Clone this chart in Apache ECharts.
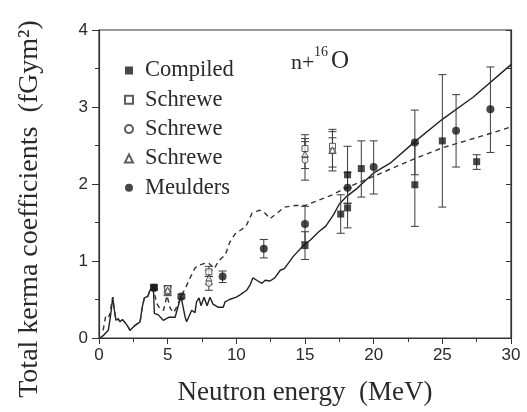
<!DOCTYPE html>
<html>
<head>
<meta charset="utf-8">
<script src="https://cdn.jsdelivr.net/npm/echarts@6/dist/echarts.min.js"></script>
<style>
html,body{margin:0;padding:0;background:#fff;}
#chart{width:527px;height:412px;}
</style>
</head>
<body>
<div id="chart"></div>
<script>
// ---- data ----
const xTickLabels = ['0', '5', '10', '15', '20', '25', '30'];
const yTickLabels = ['0', '1', '2', '3', '4'];

// [energy MeV, value, errLow, errHigh]
const compiled = [
  [4, 0.66, 0.63, 0.69], [15, 1.20, 1.02, 1.38], [17.6, 1.61, 1.36, 1.86],
  [18.1, 2.12, 1.75, 2.49], [18.1, 1.69, 1.43, 1.95], [19.1, 2.20, 1.83, 2.56],
  [23, 1.99, 1.45, 2.53], [25, 2.56, 1.70, 3.42], [27.5, 2.29, 2.19, 2.38]
];
const schreweSquare = [
  [5, 0.64, 0.60, 0.68], [8, 0.86, 0.80, 0.93], [15, 2.46, 2.35, 2.64], [17, 2.49, 2.40, 2.71]
];
const schreweCircle = [
  [5, 0.60, 0.55, 0.65], [8, 0.71, 0.62, 0.80], [15, 2.31, 2.05, 2.55], [17, 2.43, 2.22, 2.60]
];
const schreweTriangle = [
  [5, 0.62, 0.57, 0.67], [8, 0.78, 0.70, 0.88], [15, 2.39, 2.20, 2.59], [17, 2.44, 2.17, 2.68]
];
const meulders = [
  [4, 0.65, 0.62, 0.68], [6, 0.54, 0.51, 0.57], [9, 0.80, 0.72, 0.87], [12, 1.16, 1.04, 1.28],
  [15, 1.48, 1.25, 1.71], [18.1, 1.95, 1.75, 2.15], [20, 2.22, 1.87, 2.56], [23, 2.54, 2.12, 2.96],
  [26, 2.69, 2.22, 3.16], [28.5, 2.97, 2.41, 3.52]
];

// calculated curves [energy, value]
const solidCurve = [
  [0.07, 0], [0.3, 0.03], [0.68, 0.10], [0.85, 0.30], [1.0, 0.53], [1.1, 0.38], [1.24, 0.23],
  [1.4, 0.25], [1.53, 0.21], [1.7, 0.24], [1.9, 0.20], [2.1, 0.15], [2.26, 0.10], [2.6, 0.16],
  [2.99, 0.21], [3.15, 0.40], [3.3, 0.52], [3.55, 0.54], [3.71, 0.62], [3.96, 0.65], [4.03, 0.32],
  [4.32, 0.30], [4.68, 0.23], [5.1, 0.27], [5.54, 0.27], [5.97, 0.54], [6.26, 0.28], [6.38, 0.21],
  [6.75, 0.36], [6.99, 0.33], [7.1, 0.47], [7.28, 0.52], [7.43, 0.42], [7.65, 0.53], [7.87, 0.42],
  [8.08, 0.53], [8.3, 0.44], [8.67, 0.40], [9.05, 0.40], [9.18, 0.47], [9.5, 0.50], [10.0, 0.53],
  [10.27, 0.56], [10.75, 0.62], [11.0, 0.69], [11.2, 0.78], [11.58, 0.74], [11.87, 0.71], [12.1, 0.75],
  [12.45, 0.74], [12.8, 0.78], [13.2, 0.88], [13.5, 0.90], [14.15, 1.06], [14.93, 1.21], [15.37, 1.27],
  [16.0, 1.38], [16.5, 1.45], [17.07, 1.60], [17.5, 1.74], [18.04, 1.84], [18.77, 1.94], [19.13, 2.00],
  [19.98, 2.14], [21.2, 2.27], [23.0, 2.55], [25.0, 2.84], [27.26, 3.13], [30, 3.55]
];
const dashedCurve = [
  [0.3, 0.10], [0.5, 0.30], [0.75, 0.28], [1.0, 0.53], [1.1, 0.38], [1.24, 0.23], [1.4, 0.25],
  [1.53, 0.21], [1.7, 0.24], [1.9, 0.20], [2.1, 0.15], [2.26, 0.10], [2.6, 0.16], [2.99, 0.21],
  [3.15, 0.40], [3.3, 0.52], [3.55, 0.54], [3.71, 0.62], [3.96, 0.65], [4.2, 0.45], [4.45, 0.38],
  [4.7, 0.36], [4.95, 0.55], [5.2, 0.38], [5.45, 0.33], [5.7, 0.42], [5.97, 0.54], [6.3, 0.65],
  [6.63, 0.78], [7.0, 0.91], [7.36, 0.95], [7.7, 0.97], [8.0, 0.97], [8.4, 0.90], [8.7, 1.00],
  [9.2, 1.08], [9.54, 1.25], [9.9, 1.35], [10.3, 1.40], [10.7, 1.45], [11.14, 1.62], [11.7, 1.66],
  [12.1, 1.62], [12.45, 1.55], [12.96, 1.62], [13.5, 1.70], [14.27, 1.72], [15, 1.72], [17, 1.86],
  [18, 1.95], [20, 2.10], [23, 2.33], [25, 2.47], [28, 2.63], [30, 2.74]
];

// ---- chart ----
const SERIF = '"Liberation Serif","Times New Roman",serif';
const SANS = '"Liberation Sans",Arial,sans-serif';
const INK = '#2a2a2a';

function pts(arr) { return arr.map(d => [d[0], d[1]]); }
function errs(arr) { return arr.map(d => [d[0], d[2], d[3]]); }

function errorRender(params, api) {
  const x = api.value(0), lo = api.value(1), hi = api.value(2);
  const top = api.coord([x, hi]);
  const bot = api.coord([x, lo]);
  const w = 4;
  const st = { stroke: '#3a3a3a', lineWidth: 1 };
  return {
    type: 'group',
    children: [
      { type: 'line', shape: { x1: top[0], y1: top[1], x2: bot[0], y2: bot[1] }, style: st },
      { type: 'line', shape: { x1: top[0] - w, y1: top[1], x2: top[0] + w, y2: top[1] }, style: st },
      { type: 'line', shape: { x1: bot[0] - w, y1: bot[1], x2: bot[0] + w, y2: bot[1] }, style: st }
    ]
  };
}
function errSeries(arr) {
  return {
    type: 'custom', renderItem: errorRender, data: errs(arr),
    encode: { x: 0, y: [1, 2] }, z: 2, silent: true
  };
}

const openStyle = { color: '#ffffff', borderColor: '#333', borderWidth: 1 };

const chart = echarts.init(document.getElementById('chart'), null, { renderer: 'canvas' });
chart.setOption({
  animation: false,
  backgroundColor: '#ffffff',
  grid: {
    left: 99, right: 16, top: 30, bottom: 74,
    show: true, borderColor: '#333', borderWidth: 1.2, backgroundColor: 'transparent',
    outerBoundsMode: 'none'
  },
  legend: {
    orient: 'vertical', left: 124, top: 59,
    itemWidth: 8, itemHeight: 8, itemGap: 6.3, padding: 0,
    formatter: n => n.trim(),
    textStyle: { fontFamily: SERIF, fontSize: 22.5, color: INK, padding: [0, 0, 0, 7] },
    data: ['Compiled', 'Schrewe', 'Schrewe ', 'Schrewe  ', 'Meulders']
  },
  xAxis: {
    type: 'value', min: 0, max: 30, interval: 5,
    axisLine: { show: true, lineStyle: { color: '#333', width: 1.2 } },
    axisTick: { show: true, inside: false, length: 6, lineStyle: { color: '#333' } },
    minorTick: { show: true, splitNumber: 2, length: 4, lineStyle: { color: '#333' } },
    splitLine: { show: false },
    axisLabel: {
      margin: 9, fontFamily: SANS, fontSize: 17, color: INK,
      formatter: v => xTickLabels[Math.round(v / 5)]
    },
    name: 'Neutron energy  (MeV)', nameLocation: 'middle', nameGap: 41,
    nameTextStyle: { fontFamily: SERIF, fontSize: 27, color: INK }
  },
  yAxis: [
    {
      type: 'value', min: 0, max: 4, interval: 1,
      axisLine: { show: true, lineStyle: { color: '#333', width: 1.2 } },
      axisTick: { show: true, inside: false, length: 7, lineStyle: { color: '#333' } },
      minorTick: { show: true, splitNumber: 2, length: 4, lineStyle: { color: '#333' } },
      splitLine: { show: false },
      axisLabel: {
        margin: 11, fontFamily: SANS, fontSize: 17, color: INK,
        formatter: v => yTickLabels[Math.round(v)]
      },
      name: 'Total kerma coefficients  (fGym²)', nameLocation: 'middle', nameGap: 55,
      nameTextStyle: { fontFamily: SERIF, fontSize: 28, color: INK, padding: [0, 50, 0, 0] }
    },
    {
      type: 'value', min: 0, max: 4, interval: 0.5, position: 'right',
      axisLine: { show: true, lineStyle: { color: '#333', width: 1.2 } },
      axisTick: { show: true, inside: true, length: 5, lineStyle: { color: '#333' } },
      axisLabel: { show: false }, splitLine: { show: false }
    }
  ],
  graphic: [
    { type: 'text', left: 291, top: 52, style: { text: 'n+', font: '22px ' + SERIF, fill: INK } },
    { type: 'text', left: 314, top: 45, style: { text: '16', font: '14px ' + SERIF, fill: INK } },
    { type: 'text', left: 331, top: 49, style: { text: 'O', font: '25px ' + SERIF, fill: INK } }
  ],
  series: [
    {
      type: 'line', data: solidCurve, showSymbol: false, symbol: 'none', z: 1, silent: true,
      lineStyle: { color: '#222', width: 1.4 }
    },
    {
      type: 'line', data: dashedCurve, showSymbol: false, symbol: 'none', z: 1, silent: true,
      lineStyle: { color: '#333', width: 1.4, type: [5, 4] }
    },
    errSeries(compiled), errSeries(schreweSquare), errSeries(schreweCircle),
    errSeries(schreweTriangle), errSeries(meulders),
    {
      name: 'Compiled', type: 'scatter', data: pts(compiled), symbol: 'rect', symbolSize: 7, z: 4,
      itemStyle: { color: '#1a1a1a' }
    },
    {
      name: 'Schrewe', type: 'scatter', data: pts(schreweSquare), symbol: 'rect', symbolSize: 6, z: 5,
      itemStyle: openStyle
    },
    {
      name: 'Schrewe ', type: 'scatter', data: pts(schreweCircle), symbol: 'circle', symbolSize: 6, z: 5,
      itemStyle: openStyle
    },
    {
      name: 'Schrewe  ', type: 'scatter', data: pts(schreweTriangle), symbol: 'triangle', symbolSize: 6, z: 5,
      itemStyle: openStyle
    },
    {
      name: 'Meulders', type: 'scatter', data: pts(meulders), symbol: 'circle', symbolSize: 8, z: 4,
      itemStyle: { color: '#1a1a1a' }
    }
  ]
});
</script>
</body>
</html>
